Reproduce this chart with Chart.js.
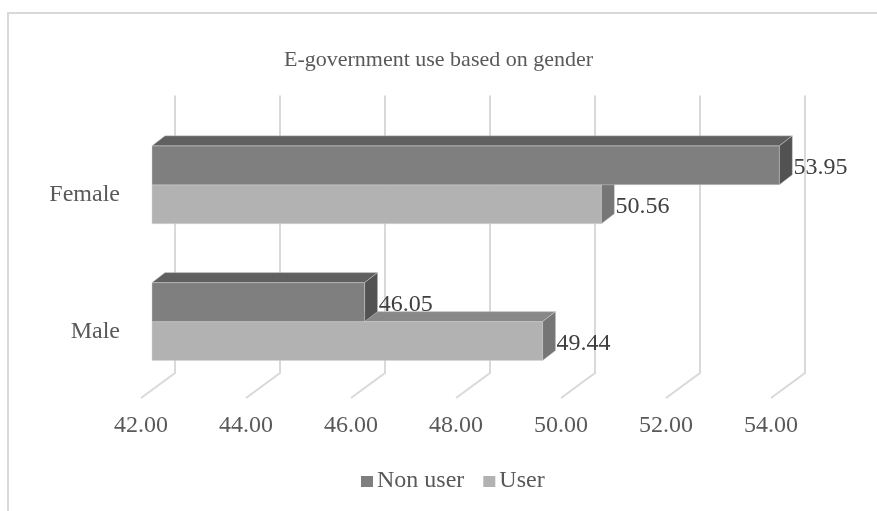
<!DOCTYPE html>
<html>
<head>
<meta charset="utf-8">
<script src="https://cdn.jsdelivr.net/npm/chart.js@4.4.1/dist/chart.umd.min.js"></script>
<style>
  html, body { margin: 0; padding: 0; background: #ffffff; }
  canvas { display: block; }
</style>
</head>
<body>
<canvas id="chart" width="877" height="511"></canvas>
<script>
// Data
const categories = ['Female', 'Male'];
const seriesNames = ['Non user', 'User'];
const nonUserValues = [53.95, 46.05];
const userValues = [50.56, 49.44];
const xTickValues = [42, 44, 46, 48, 50, 52, 54];
const chartTitle = 'E-government use based on gender';

// Styling
const SERIF = '"Liberation Serif", "Times New Roman", serif';
const TEXT_GREY = '#595959';
const GRID_GREY = '#d9d9d9';
const DEPTH_X = 13;     // extrusion of the bars toward the back wall
const DEPTH_Y = -10;
const GRID_BACK = 23;   // back-wall offset of a grid line from the bar front plane
const GRID_FRONT = -11; // floor front edge offset of a grid line
const palette = [
  { front: '#7f7f7f', top: '#606060', side: '#525252' },
  { front: '#b2b2b2', top: '#888888', side: '#767676' }
];

function barRect(chart, el) {
  const p = el.getProps(['x', 'y', 'base', 'height'], true);
  const a = chart.chartArea;
  const left = Math.max(Math.min(p.base, p.x), a.left);
  const right = Math.min(Math.max(p.base, p.x), a.right);
  return { left, right, top: p.y - p.height / 2, bottom: p.y + p.height / 2, cy: p.y };
}

function poly(ctx, pts, fill) {
  ctx.beginPath();
  ctx.moveTo(pts[0][0], pts[0][1]);
  for (let i = 1; i < pts.length; i++) ctx.lineTo(pts[i][0], pts[i][1]);
  ctx.closePath();
  ctx.fillStyle = fill;
  ctx.fill();
  ctx.lineWidth = 0.8;
  ctx.strokeStyle = 'rgba(215,215,215,0.55)';
  ctx.stroke();
}

// Background, frame, title, 3D grid, bar extrusions, value labels and legend
const threeDPlugin = {
  id: 'threeD',
  beforeDraw(chart) {
    const ctx = chart.ctx;
    ctx.save();
    ctx.fillStyle = '#ffffff';
    ctx.fillRect(0, 0, chart.width, chart.height);
    ctx.strokeStyle = GRID_GREY;
    ctx.lineWidth = 2;
    ctx.strokeRect(8, 13, chart.width + 40, chart.height + 40);
    ctx.font = '22px ' + SERIF;
    ctx.fillStyle = TEXT_GREY;
    ctx.textAlign = 'center';
    ctx.textBaseline = 'middle';
    ctx.fillText(chartTitle, chart.width / 2, 60);
    ctx.restore();
  },
  beforeDatasetsDraw(chart) {
    const ctx = chart.ctx;
    const xs = chart.scales.x;
    const area = chart.chartArea;
    const yTop = area.top - 21;
    const yBend = area.bottom - 17;
    const yFloor = area.bottom + 8;
    ctx.save();
    ctx.strokeStyle = GRID_GREY;
    ctx.lineWidth = 2;
    xTickValues.forEach(v => {
      const px = xs.getPixelForValue(v);
      ctx.beginPath();
      ctx.moveTo(px + GRID_BACK, yTop);
      ctx.lineTo(px + GRID_BACK, yBend);
      ctx.lineTo(px + GRID_FRONT, yFloor);
      ctx.stroke();
    });
    ctx.restore();
  },
  afterDatasetDraw(chart, args) {
    const ctx = chart.ctx;
    const colors = palette[args.index];
    ctx.save();
    args.meta.data.forEach(el => {
      const r = barRect(chart, el);
      ctx.lineWidth = 0.8;
      ctx.strokeStyle = 'rgba(215,215,215,0.55)';
      ctx.strokeRect(r.left, r.top, r.right - r.left, r.bottom - r.top);
      poly(ctx, [[r.left, r.top], [r.left + DEPTH_X, r.top + DEPTH_Y],
                 [r.right + DEPTH_X, r.top + DEPTH_Y], [r.right, r.top]], colors.top);
      poly(ctx, [[r.right, r.top], [r.right + DEPTH_X, r.top + DEPTH_Y],
                 [r.right + DEPTH_X, r.bottom + DEPTH_Y], [r.right, r.bottom]], colors.side);
    });
    ctx.restore();
  },
  afterDatasetsDraw(chart) {
    const ctx = chart.ctx;
    ctx.save();
    ctx.font = '24px ' + SERIF;
    ctx.fillStyle = '#404040';
    ctx.textAlign = 'left';
    ctx.textBaseline = 'middle';
    chart.data.datasets.forEach((ds, di) => {
      chart.getDatasetMeta(di).data.forEach((el, i) => {
        const r = barRect(chart, el);
        ctx.fillText(ds.data[i].toFixed(2), r.right + DEPTH_X + 1, r.cy + 2.5);
      });
    });
    ctx.restore();
  },
  afterDraw(chart) {
    const ctx = chart.ctx;
    ctx.save();
    ctx.font = '24px ' + SERIF;
    ctx.textBaseline = 'alphabetic';
    ctx.textAlign = 'left';
    let x = 361;
    const baseline = 486.5;
    chart.data.datasets.forEach((ds, di) => {
      ctx.fillStyle = palette[di].front;
      ctx.fillRect(x, 476, 12, 11);
      x += 16;
      ctx.fillStyle = TEXT_GREY;
      ctx.fillText(ds.label, x, baseline);
      x += ctx.measureText(ds.label).width + 19;
    });
    ctx.restore();
  }
};

new Chart(document.getElementById('chart'), {
  type: 'bar',
  data: {
    labels: categories,
    datasets: [
      { label: seriesNames[0], data: nonUserValues, backgroundColor: palette[0].front,
        categoryPercentage: 0.57, barPercentage: 1.0, borderWidth: 0 },
      { label: seriesNames[1], data: userValues, backgroundColor: palette[1].front,
        categoryPercentage: 0.57, barPercentage: 1.0, borderWidth: 0 }
    ]
  },
  options: {
    indexAxis: 'y',
    responsive: false,
    devicePixelRatio: 1,
    animation: false,
    layout: { padding: { top: 116.4, left: 0, right: 95, bottom: 49 } },
    plugins: {
      legend: { display: false },
      tooltip: { enabled: false },
      title: { display: false }
    },
    scales: {
      x: {
        min: 42, max: 54,
        afterBuildTicks: s => { s.ticks = xTickValues.map(v => ({ value: v })); },
        afterFit: s => { s.height = 72; },
        grid: { display: false, drawTicks: false },
        border: { display: false },
        ticks: {
          padding: 21, labelOffset: GRID_FRONT, color: TEXT_GREY,
          font: { family: SERIF, size: 24 },
          maxRotation: 0, autoSkip: false,
          callback: v => Number(v).toFixed(2)
        }
      },
      y: {
        afterFit: s => { s.width = 152; },
        grid: { display: false, drawTicks: false },
        border: { display: false },
        ticks: {
          padding: 32, labelOffset: 10, color: TEXT_GREY,
          font: { family: SERIF, size: 24 }
        }
      }
    }
  },
  plugins: [threeDPlugin]
});
</script>
</body>
</html>
